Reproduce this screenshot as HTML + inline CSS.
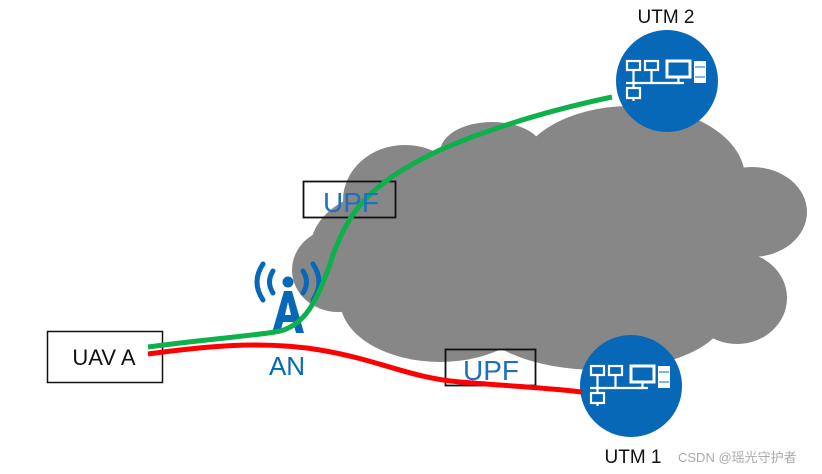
<!DOCTYPE html>
<html><head><meta charset="utf-8"><style>
html,body{margin:0;padding:0;background:#fff;}
svg{display:block;font-family:"Liberation Sans","Noto Sans CJK SC",sans-serif;}
</style></head><body>
<svg width="822" height="474" viewBox="0 0 822 474">
<defs>
<g id="ic" fill="none" stroke="#fff" stroke-width="2.2">
  <rect x="-40" y="-20" width="13" height="9"/>
  <rect x="-22" y="-20" width="13" height="9"/>
  <line x1="-33.5" y1="-11" x2="-33.5" y2="2"/>
  <line x1="-15.5" y1="-11" x2="-15.5" y2="2"/>
  <rect x="0" y="-20" width="23" height="16" stroke-width="3"/>
  <line x1="11.5" y1="-4" x2="11.5" y2="1"/>
  <line x1="6" y1="2" x2="17" y2="2"/>
  <rect x="27" y="-20" width="12" height="22" fill="#fff" stroke="none"/>
  <line x1="28" y1="-14" x2="38" y2="-14" stroke="#0868b8" stroke-width="1"/>
  <line x1="28" y1="-4" x2="38" y2="-4" stroke="#0868b8" stroke-width="1"/>
  <line x1="-41" y1="2" x2="12" y2="2"/>
  <line x1="-33.5" y1="2" x2="-33.5" y2="7"/>
  <rect x="-40" y="7" width="13" height="10"/>
  <line x1="-33.5" y1="17" x2="-33.5" y2="20"/>
</g>
</defs>
<g fill="#878787">
  <ellipse cx="338" cy="270" rx="46" ry="42"/>
  <ellipse cx="390" cy="250" rx="80" ry="60"/>
  <ellipse cx="405" cy="200" rx="62" ry="55"/>
  <ellipse cx="470" cy="200" rx="60" ry="60"/>
  <ellipse cx="492" cy="152" rx="52" ry="30"/>
  <ellipse cx="630" cy="178" rx="115" ry="72"/>
  <ellipse cx="752" cy="212" rx="55" ry="45"/>
  <ellipse cx="737" cy="298" rx="50" ry="46"/>
  <ellipse cx="600" cy="315" rx="125" ry="55"/>
  <ellipse cx="440" cy="300" rx="100" ry="62"/>
  <rect x="360" y="190" width="380" height="120"/>
</g>
<circle cx="667" cy="81" r="51" fill="#0868b8"/>
<use href="#ic" x="667" y="81"/>
<circle cx="631" cy="386" r="51" fill="#0868b8"/>
<use href="#ic" x="631" y="386"/>
<text x="666" y="23" font-size="19" text-anchor="middle" fill="#111">UTM 2</text>
<text x="633" y="463" font-size="19" text-anchor="middle" fill="#111">UTM 1</text>
<text x="678" y="462" font-size="13" fill="#aaa">CSDN @瑶光守护者</text>
<rect x="47.5" y="331.5" width="115" height="51" fill="#fff" stroke="#111" stroke-width="1.5"/>
<text x="104" y="365" font-size="22" text-anchor="middle" fill="#111">UAV A</text>
<rect x="303.5" y="181.5" width="92" height="36" fill="none" stroke="#111" stroke-width="1.8"/>
<rect x="445.5" y="349.5" width="90" height="36" fill="none" stroke="#111" stroke-width="1.8"/>
<g fill="none" stroke="#0868b8" stroke-width="5" stroke-linecap="round">
  <path d="M263 264 Q251 282 263 300"/>
  <path d="M273 271 Q266 282 273 293"/>
  <path d="M313 264 Q325 282 313 300"/>
  <path d="M303 271 Q310 282 303 293"/>
</g>
<circle cx="288" cy="282" r="5.5" fill="#0868b8"/>
<path d="M284 291 L292 291 L304 333 L296 333 L293 322 L283 322 L280 333 L272 333 Z M285 315 L291 315 L288 302 Z" fill="#0868b8" fill-rule="evenodd"/>
<text x="287" y="375" font-size="26" text-anchor="middle" fill="#0868b8">AN</text>
<path d="M148 347 C200 340 250 336 275 332 C305 328 318 300 333 255 C348 215 365 185 440 150 C500 124 560 108 612 97" fill="none" stroke="#0db04b" stroke-width="5"/>
<path d="M148 354 C200 347 260 340 320 350 C380 360 410 378 460 382 C510 386 550 388 582 392" fill="none" stroke="#f00" stroke-width="5"/>
<text x="351" y="212" font-size="28" text-anchor="middle" fill="#1f6fc0">UPF</text>
<text x="491" y="380" font-size="28" text-anchor="middle" fill="#1f6fc0">UPF</text>
</svg>
</body></html>
